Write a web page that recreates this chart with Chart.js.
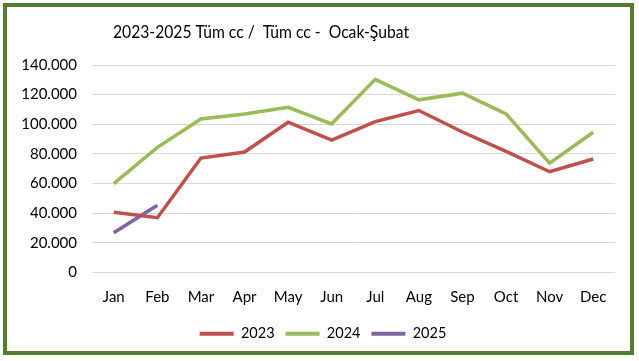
<!DOCTYPE html>
<html>
<head>
<meta charset="utf-8">
<script src="https://cdn.jsdelivr.net/npm/chart.js@4/dist/chart.umd.min.js"></script>
<style>
  body { margin: 0; background: #fff; }
  #frame {
    position: absolute; left: 3px; top: 3px;
    width: 623px; height: 344px;
    border: 4px solid #527f2f;
    background: #fff;
  }
</style>
</head>
<body>
<div id="frame"><canvas id="myChart" width="623" height="344"></canvas></div>
<script>
const months = ['Jan', 'Feb', 'Mar', 'Apr', 'May', 'Jun', 'Jul', 'Aug', 'Sep', 'Oct', 'Nov', 'Dec'];
const values2023 = [40600, 37000, 77200, 81300, 101400, 89400, 101800, 109300, 94800, 81700, 68000, 76600];
const values2024 = [60000, 84400, 103600, 107000, 111500, 100300, 130300, 116500, 121000, 107000, 73800, 94600];
const values2025 = [26800, 45400];
const seriesNames = ['2023', '2024', '2025'];
const seriesColors = ['#c0504d', '#9bbb59', '#8064a2'];
const chartTitle = '2023-2025 Tüm cc /  Tüm cc -  Ocak-Şubat';

const FONT = 'Lato, "Open Sans", sans-serif';

// 140000 -> "140.000"
function fmt(v) {
  return String(v).replace(/\B(?=(\d{3})+(?!\d))/g, '.');
}

// the title sits a bit left of centre in the original, so draw it by hand
// (squeezed a bit, the sheet font is narrower than Lato)
// and nudge the legend a little to the right like in the sheet
const sheetPlugin = {
  id: 'sheetTitle',
  afterLayout(chart) {
    chart.legend.left += 12;
    chart.legend.right += 12;
  },
  afterDraw(chart) {
    const c = chart.ctx;
    c.save();
    c.fillStyle = '#000';
    c.font = '18px ' + FONT;
    c.textAlign = 'center';
    c.textBaseline = 'middle';
    const w = c.measureText(chartTitle).width;
    const sx = Math.min(1, 296 / w);
    c.translate(254, 25);
    c.scale(sx, 1);
    c.fillText(chartTitle, 0, 0);
    c.restore();
  }
};

const ctx = document.getElementById('myChart').getContext('2d');

const data = {
  labels: months,
  datasets: [values2023, values2024, values2025].map((vals, i) => ({
    label: seriesNames[i],
    data: vals,
    borderColor: seriesColors[i],
    backgroundColor: seriesColors[i],
    borderWidth: 3.5,
    pointRadius: 0,
    tension: 0
  }))
};

const config = {
  type: 'line',
  data: data,
  plugins: [sheetPlugin],
  options: {
    responsive: false,
    animation: false,
    layout: { padding: { left: 0, right: 15, top: 58, bottom: 0 } },
    plugins: {
      title: { display: false },
      legend: {
        position: 'bottom',
        labels: {
          color: '#000',
          font: { family: FONT, size: 14.5 },
          boxWidth: 34,
          boxHeight: 4,
          padding: 11,
          generateLabels: chart => chart.data.datasets.map((ds, i) => ({
            text: ds.label,
            fillStyle: ds.borderColor,
            strokeStyle: ds.borderColor,
            lineWidth: 0,
            datasetIndex: i
          }))
        }
      },
      tooltip: { enabled: false }
    },
    scales: {
      x: {
        offset: true,
        grid: { display: false },
        border: { display: false },
        afterFit: s => { s.height = 43; },
        ticks: { color: '#000', font: { family: FONT, size: 15 }, padding: 8 }
      },
      y: {
        min: 0,
        max: 140000,
        afterFit: s => { s.width = 85; },
        grid: { color: '#d9d9d9', lineWidth: 1, drawTicks: false },
        border: { display: false },
        ticks: {
          stepSize: 20000,
          color: '#000',
          font: { family: FONT, size: 15 },
          padding: 15,
          callback: v => fmt(v)
        }
      }
    }
  }
};

const myChart = new Chart(ctx, config);
</script>
</body>
</html>
